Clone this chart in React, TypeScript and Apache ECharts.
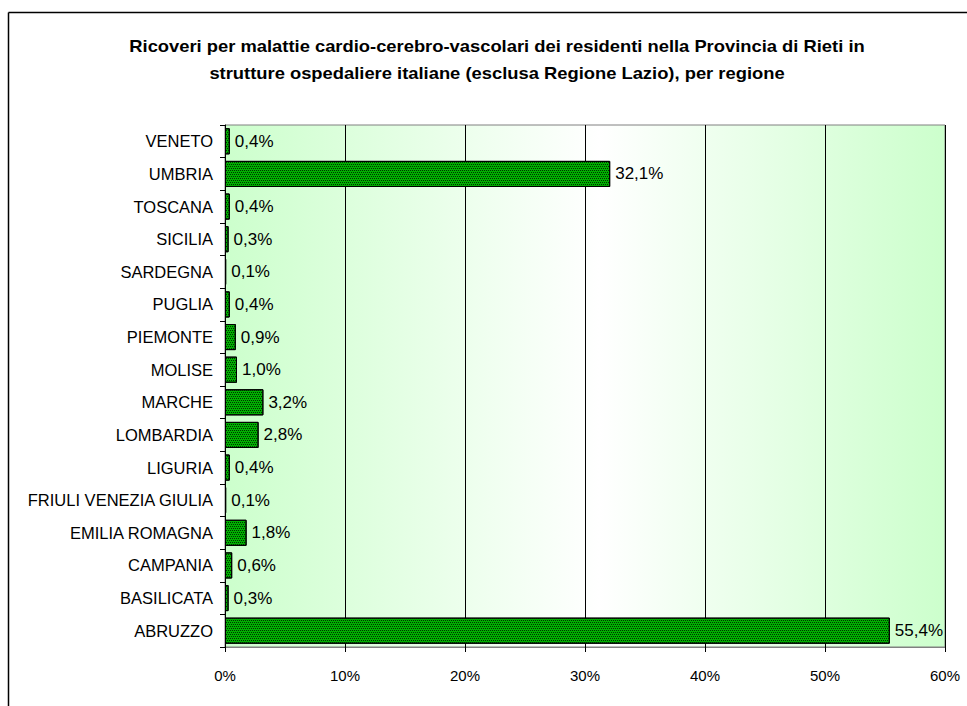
import React, { useEffect, useRef } from "react";
import * as echarts from "echarts";

const categories = [
  "ABRUZZO",
  "BASILICATA",
  "CAMPANIA",
  "EMILIA ROMAGNA",
  "FRIULI VENEZIA GIULIA",
  "LIGURIA",
  "LOMBARDIA",
  "MARCHE",
  "MOLISE",
  "PIEMONTE",
  "PUGLIA",
  "SARDEGNA",
  "SICILIA",
  "TOSCANA",
  "UMBRIA",
  "VENETO",
];
const values = [55.4, 0.3, 0.6, 1.8, 0.1, 0.4, 2.8, 3.2, 1.0, 0.9, 0.4, 0.1, 0.3, 0.4, 32.1, 0.4];
const titleLines = [
  "Ricoveri per malattie cardio-cerebro-vascolari dei residenti nella Provincia di Rieti in",
  "strutture ospedaliere italiane (esclusa Regione Lazio), per regione",
];

const FONT = "'Liberation Sans', Arial, sans-serif";

export default function App() {
  const ref = useRef<HTMLDivElement>(null);
  useEffect(() => {
    if (!ref.current) return;
    const chart = echarts.init(ref.current, null, { renderer: "svg" });
    chart.setOption({
      animation: false,
      backgroundColor: "#ffffff",
      textStyle: { fontFamily: FONT },
      graphic: [
        { type: "line", shape: { x1: 8.5, y1: 12.5, x2: 967, y2: 12.5 }, style: { stroke: "#000", lineWidth: 1.5 } },
        { type: "line", shape: { x1: 8.5, y1: 12.5, x2: 8.5, y2: 706 }, style: { stroke: "#000", lineWidth: 1.5 } },
        ...titleLines.map((t, i) => ({
          type: "text",
          x: 497,
          y: 46 + i * 27,
          scaleX: 1.02,
          scaleY: 0.95,
          style: {
            text: t,
            fill: "#000",
            font: `bold 18px ${FONT}`,
            textAlign: "center",
            textVerticalAlign: "middle",
          },
        })),
      ],
      grid: {
        left: 225,
        right: 22,
        top: 125,
        bottom: 59,
        show: true,
        borderColor: "#808080",
        borderWidth: 1,
        backgroundColor: new echarts.graphic.LinearGradient(0, 0, 1, 0, [
          { offset: 0, color: "#ccffcc" },
          { offset: 0.52, color: "#ffffff" },
          { offset: 1, color: "#ccffcc" },
        ]),
      },
      xAxis: {
        type: "value",
        min: 0,
        max: 60,
        interval: 10,
        axisLine: { show: true, lineStyle: { color: "#808080" } },
        axisTick: { show: true, length: 5, lineStyle: { color: "#000" } },
        splitLine: { show: true, lineStyle: { color: "#000", width: 1 } },
        axisLabel: { formatter: "{value}%", color: "#000", fontSize: 15, margin: 21, fontFamily: FONT },
      },
      yAxis: {
        type: "category",
        data: categories,
        axisLine: { show: true, lineStyle: { color: "#000" } },
        axisTick: { show: true, length: 5, lineStyle: { color: "#000" } },
        axisLabel: { color: "#000", fontSize: 16.5, margin: 12, fontFamily: FONT },
      },
      series: [
        {
          type: "bar",
          data: values,
          barCategoryGap: "20%",
          itemStyle: {
            color: "#00b000",
            borderColor: "#000",
            borderWidth: 1,
            decal: {
              symbol: "rect",
              symbolSize: 1,
              color: "#003000",
              dashArrayX: [
                [1, 1],
                [0, 1, 1, 0],
              ],
              dashArrayY: [1, 1],
              rotation: 0,
            },
          },
          label: {
            show: true,
            position: "right",
            distance: 5,
            color: "#000",
            fontSize: 17,
            fontFamily: FONT,
            formatter: (p: any) => p.value.toFixed(1).replace(".", ",") + "%",
          },
        },
      ],
    });
    return () => chart.dispose();
  }, []);
  return (
    <div
      ref={ref}
      style={{ position: "fixed", left: 0, top: 0, width: 967, height: 706 }}
    />
  );
}
